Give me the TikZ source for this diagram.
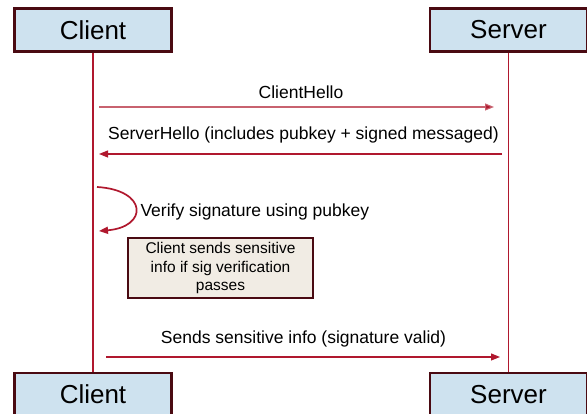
\documentclass[tikz,border=0pt]{standalone}
\usepackage{fontspec}
\setmainfont{Liberation Sans}
\usetikzlibrary{arrows.meta,positioning}
\definecolor{maroon}{HTML}{4A0A12}
\definecolor{lifeln}{HTML}{B0182E}
\definecolor{softred}{HTML}{C8626F}
\definecolor{actorlt}{HTML}{CEE2EF}
\definecolor{notelt}{HTML}{F1ECE4}
\tikzset{
  actor/.style={draw=maroon, fill=actorlt, line width=2.4pt, minimum width=157pt,
                minimum height=43pt, inner sep=0pt, font=\fontsize{26}{30}\selectfont},
  life/.style={draw=lifeln, line width=1.6pt},
  msg/.style={-{Triangle[length=9pt,width=7pt]}, line width=1.1pt, draw=lifeln},
  msgsoft/.style={msg, draw=softred, -{Triangle[length=9pt,width=7pt,fill=lifeln]}},
  lbl/.style={font=\fontsize{17.5}{20}\selectfont},
  notebox/.style={draw=maroon, fill=notelt, line width=2.2pt, align=center,
                  minimum width=185pt, minimum height=60pt, inner sep=1pt,
                  font=\fontsize{15.5}{18.5}\selectfont}
}

\begin{document}
\begin{tikzpicture}[x=1pt,y=1pt]
  \useasboundingbox (0,0) rectangle (587,414);

  % actors, top and bottom
  \node[actor] (clienttop) at (93,384) {Client};
  \node[actor] (servertop) at (508.5,384) {Server};
  \node[actor] (clientbot) at (93,19.5) {Client};
  \node[actor] (serverbot) at (508.5,19.5) {Server};

  % lifelines
  \draw[life] (clienttop.south) -- (clientbot.north);
  \draw[life] (servertop.south) -- (serverbot.north);

  % ClientHello
  \coordinate (hello1a) at (99,307);
  \coordinate (hello1b) at (494,307);
  \draw[msgsoft] (hello1a) -- (hello1b);
  \node[lbl] (hello1lbl) at (301,322) {ClientHello};

  % ServerHello
  \coordinate (hello2a) at (502,260);
  \coordinate (hello2b) at (99,260);
  \draw[msg] (hello2a) -- (hello2b);
  \node[lbl] (hello2lbl) at (303.5,279) {ServerHello (includes pubkey + signed messaged)};

  % self check on the client
  \coordinate (loopa) at (97,227);
  \coordinate (loopb) at (99,183);
  \draw[msg, line width=1.7pt] (loopa) .. controls (148,224) and (148,187) .. (loopb);
  \node[lbl, anchor=west] (verifylbl) at (137,202.5) {Verify signature using pubkey};

  \node[notebox] (note) at (220.5,146)
    {Client sends sensitive\\info if sig verification\\passes};

  % sensitive info
  \coordinate (senda) at (106,57);
  \coordinate (sendb) at (500,57);
  \draw[msg] (senda) -- (sendb);
  \node[lbl] (sendlbl) at (303.5,75) {Sends sensitive info (signature valid)};
\end{tikzpicture}
\end{document}
